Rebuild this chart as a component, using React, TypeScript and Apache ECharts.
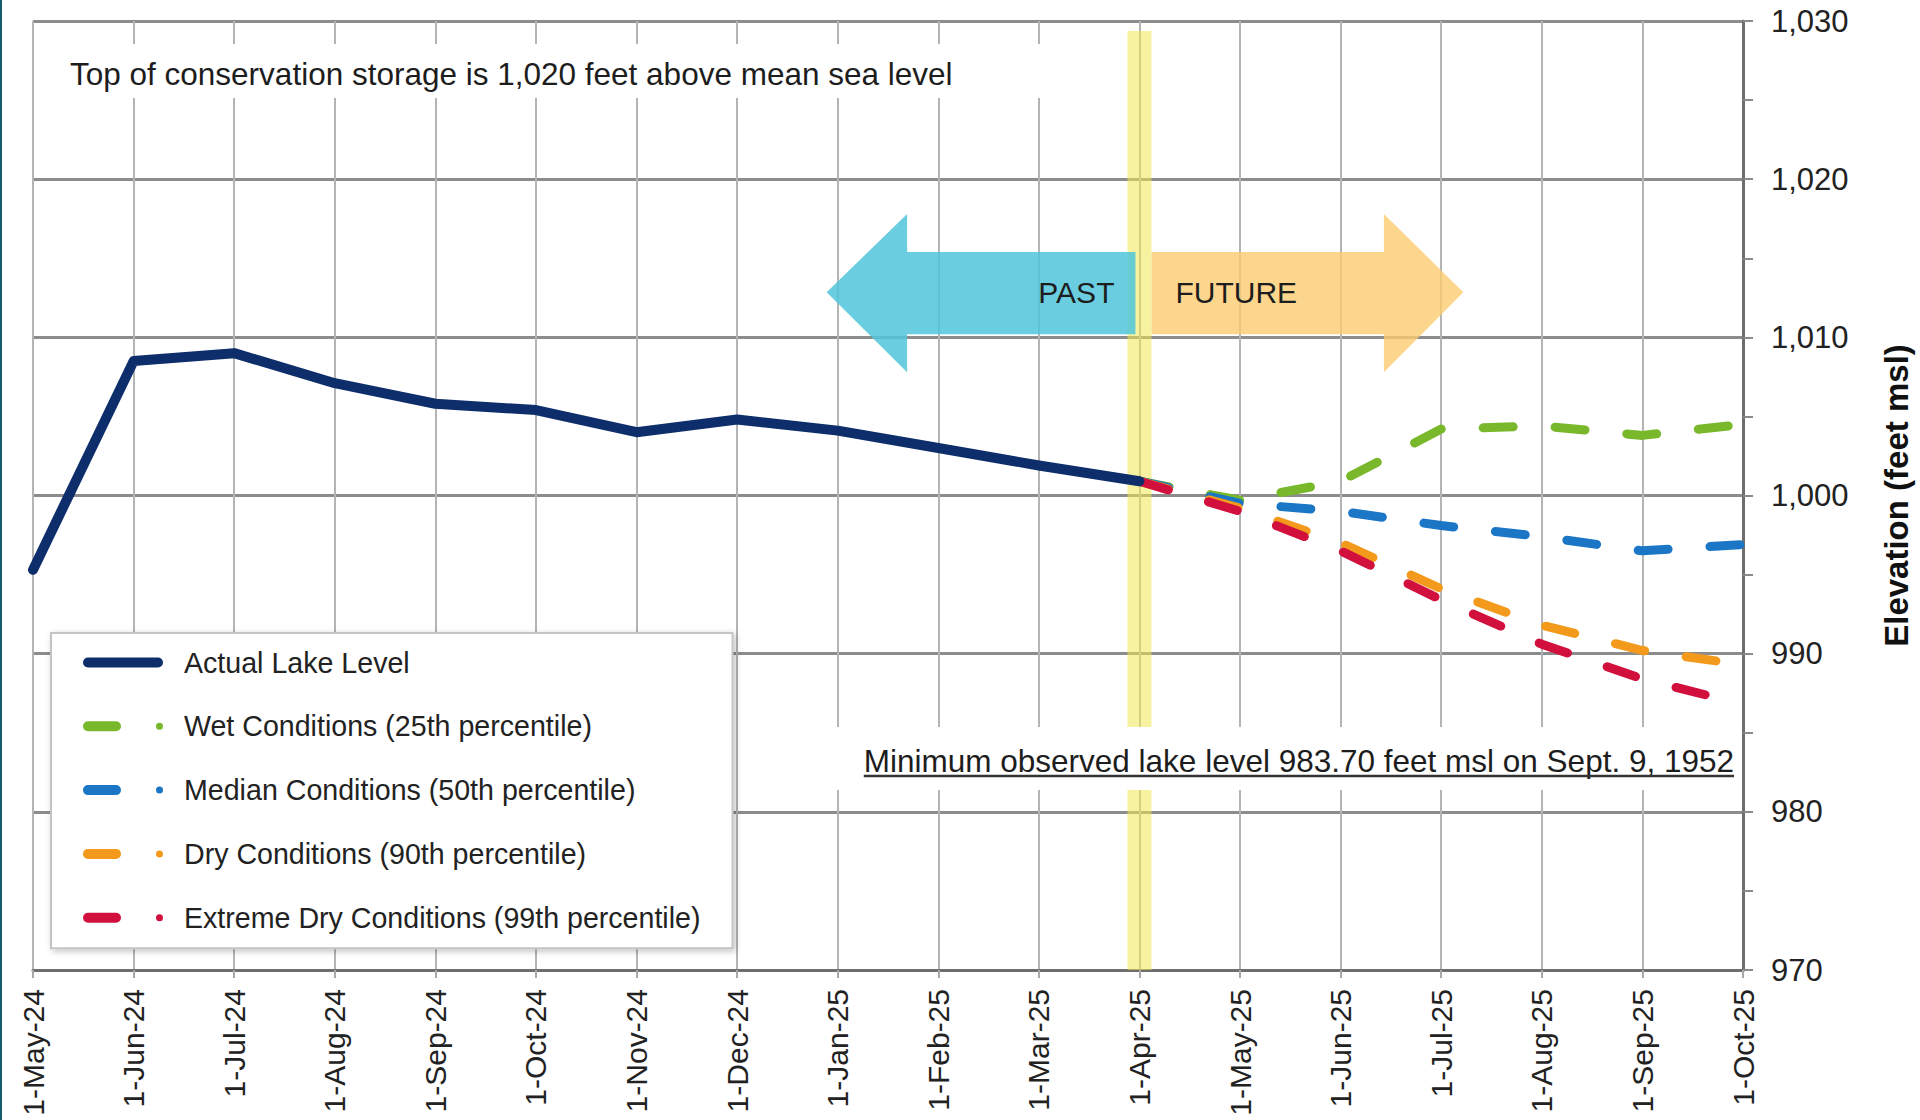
import React, { useEffect, useRef } from 'react';
import * as echarts from 'echarts';

const months = [
  '1-May-24', '1-Jun-24', '1-Jul-24', '1-Aug-24', '1-Sep-24', '1-Oct-24',
  '1-Nov-24', '1-Dec-24', '1-Jan-25', '1-Feb-25', '1-Mar-25', '1-Apr-25',
  '1-May-25', '1-Jun-25', '1-Jul-25', '1-Aug-25', '1-Sep-25', '1-Oct-25',
];

// Actual lake level, May-24 .. Apr-25
const actualLevel = [995.3, 1008.5, 1009.0, 1007.1, 1005.8, 1005.4, 1004.0, 1004.8, 1004.1, 1003.0, 1001.9, 1000.9];
// Forecasts, Apr-25 .. Oct-25
const forecastStart = 11;
const wetForecast = [1000.9, 999.7, 1000.9, 1004.2, 1004.4, 1003.8, 1004.5];
const medianForecast = [1000.9, 999.5, 999.0, 998.1, 997.4, 996.5, 996.9];
const dryForecast = [1000.9, 999.2, 997.0, 994.1, 991.8, 990.2, 989.3];
const extremeForecast = [1000.9, 999.0, 996.5, 993.4, 990.6, 988.4, 986.8];

const yMin = 970;
const yMax = 1030;
const yInterval = 10;

const seriesNames = [
  'Actual Lake Level',
  'Wet Conditions (25th percentile)',
  'Median Conditions (50th percentile)',
  'Dry Conditions (90th percentile)',
  'Extreme Dry Conditions (99th percentile)',
];
const seriesColors = ['#0d2d6b', '#79b82b', '#1b77c6', '#f39a1c', '#d2103d'];

const topNote = 'Top of conservation storage is 1,020 feet above mean sea level';
const minNote = 'Minimum observed lake level 983.70 feet msl on Sept. 9, 1952';
const yAxisTitle = 'Elevation (feet msl)';

const FONT = '"Liberation Sans", Arial, sans-serif';

const solidIcon = 'path://M5 0 H75 A5 5 0 0 1 75 10 H5 A5 5 0 0 1 5 0 Z';
const dashIcon =
  'path://M5 0 H33 A5 5 0 0 1 33 10 H5 A5 5 0 0 1 5 0 Z M76.5 1.5 A3.5 3.5 0 1 1 76.5 8.5 A3.5 3.5 0 1 1 76.5 1.5 Z';

export default function App() {
  const ref = useRef<HTMLDivElement>(null);

  useEffect(() => {
    const el = ref.current!;
    const chart = echarts.init(el, null, { renderer: 'svg' });

    const pad = (arr: number[], start: number) =>
      months.map((_, i) => (i < start || i - start >= arr.length ? null : arr[i - start]));

    const forecastSeries = [wetForecast, medianForecast, dryForecast, extremeForecast].map((arr, k) => ({
      name: seriesNames[k + 1],
      type: 'line',
      data: pad(arr, forecastStart),
      symbol: 'none',
      z: 3 + k,
      itemStyle: { color: seriesColors[k + 1] },
      lineStyle: { color: seriesColors[k + 1], width: 9, type: [30, 42], cap: 'round', join: 'round' },
    }));

    const option: any = {
      animation: false,
      backgroundColor: '#ffffff',
      grid: { left: 33, right: 177, top: 21, bottom: 150, containLabel: false, outerBoundsMode: 'none' },
      legend: {
        orient: 'vertical',
        left: 51,
        top: 633,
        data: seriesNames.map((n, i) => ({ name: n, icon: i === 0 ? solidIcon : dashIcon })),
        itemWidth: 80,
        itemHeight: 10,
        itemGap: 34.8,
        padding: [15, 32, 16, 32],
        backgroundColor: '#ffffff',
        borderColor: '#c4c4c4',
        borderWidth: 2,
        shadowColor: 'rgba(0,0,0,0.25)',
        shadowBlur: 6,
        shadowOffsetX: 2,
        shadowOffsetY: 2,
        itemStyle: { borderWidth: 0 },
        textStyle: { fontFamily: FONT, fontSize: 28.6, color: '#222', padding: [0, 0, 0, 16] },
        selectedMode: false,
        z: 20,
      },
      xAxis: {
        type: 'category',
        data: months,
        boundaryGap: false,
        axisLine: { show: true, lineStyle: { color: '#6e6e6e', width: 3 } },
        axisTick: { show: true, length: 8, lineStyle: { color: '#a8a8a8', width: 2 } },
        axisLabel: { rotate: 90, margin: 19, fontFamily: FONT, fontSize: 30, color: '#222', interval: 0 },
        splitLine: { show: true, lineStyle: { color: '#b4b4b4', width: 2 } },
      },
      yAxis: {
        type: 'value',
        position: 'right',
        min: yMin,
        max: yMax,
        interval: yInterval,
        name: yAxisTitle,
        nameLocation: 'middle',
        nameRotate: 90,
        nameGap: 137,
        nameTextStyle: { fontFamily: FONT, fontSize: 33, fontWeight: 'bold', color: '#111' },
        axisLine: { show: true, lineStyle: { color: '#6e6e6e', width: 3 } },
        axisTick: { show: true, length: 10, lineStyle: { color: '#8a8a8a', width: 2 } },
        minorTick: { show: true, splitNumber: 2, length: 10, lineStyle: { color: '#8a8a8a', width: 2 } },
        axisLabel: {
          margin: 28,
          fontFamily: FONT,
          fontSize: 31,
          color: '#222',
          formatter: (v: number) => v.toLocaleString('en-US'),
        },
        splitLine: { show: true, lineStyle: { color: '#8c8c8c', width: 3 } },
      },
      series: [
        {
          name: seriesNames[0],
          type: 'line',
          data: pad(actualLevel, 0),
          symbol: 'none',
          z: 7,
          itemStyle: { color: seriesColors[0] },
          lineStyle: { color: seriesColors[0], width: 10, cap: 'round', join: 'round' },
        },
        ...forecastSeries,
      ],
    };

    chart.setOption(option);

    const n = months.length - 1;
    const pt = (i: number, v: number) => {
      const a = chart.convertToPixel({ gridIndex: 0 }, [months[0], v]) as number[];
      const b = chart.convertToPixel({ gridIndex: 0 }, [months[n], v]) as number[];
      return [a[0] + ((b[0] - a[0]) * i) / n, a[1]];
    };

    const aprIdx = months.indexOf('1-Apr-25');
    const aprX = pt(aprIdx, yMin)[0];
    const bottomY = pt(0, yMin)[1];
    const topY = pt(0, yMax)[1];
    const rightX = pt(n, yMin)[0];
    const leftX = pt(0, yMin)[0];

    // Arrows (in data units)
    const arrowMid = 1012.85, shaftTop = 1015.4, shaftBot = 1010.2, headTop = 1017.8, headBot = 1007.8;
    const pastPts = [
      pt(7.89, arrowMid), pt(8.69, headTop), pt(8.69, shaftTop), pt(10.96, shaftTop),
      pt(10.96, shaftBot), pt(8.69, shaftBot), pt(8.69, headBot),
    ];
    const futurePts = [
      pt(11.12, shaftTop), pt(13.43, shaftTop), pt(13.43, headTop), pt(14.22, arrowMid),
      pt(13.43, headBot), pt(13.43, shaftBot), pt(11.12, shaftBot),
    ];
    const midY = pt(0, arrowMid)[1];

    const measure = (text: string, font: string) => {
      const c = document.createElement('canvas').getContext('2d')!;
      c.font = font;
      return c.measureText(text).width;
    };
    const minFont = `31.5px ${FONT}`;
    const minW = measure(minNote, minFont);
    const minRight = rightX - 9;
    const minY = 761;

    chart.setOption({
      graphic: [
        { type: 'rect', z: 100, shape: { x: 0, y: 0, width: 2, height: 1120 }, style: { fill: '#155d69' } },
        {
          type: 'rect', z: 1,
          shape: { x: aprX - 12, y: topY + 10, width: 24, height: bottomY - topY - 10 },
          style: { fill: 'rgba(240,232,80,0.55)' },
        },
        { type: 'polygon', z: 1, shape: { points: pastPts }, style: { fill: 'rgba(80,198,218,0.85)' } },
        { type: 'polygon', z: 1, shape: { points: futurePts }, style: { fill: 'rgba(252,204,112,0.8)' } },
        {
          type: 'text', z: 12, x: aprX - 25, y: midY,
          style: { text: 'PAST', font: `30px ${FONT}`, fill: '#1d1d1d', align: 'right', verticalAlign: 'middle' },
        },
        {
          type: 'text', z: 12, x: aprX + 36, y: midY,
          style: { text: 'FUTURE', font: `30px ${FONT}`, fill: '#1d1d1d', align: 'left', verticalAlign: 'middle' },
        },
        { type: 'rect', z: 10, shape: { x: leftX + 4, y: 44, width: 1075, height: 54 }, style: { fill: '#ffffff' } },
        {
          type: 'text', z: 12, x: 70, y: 74,
          style: { text: topNote, font: `31.5px ${FONT}`, fill: '#1d1d1d', align: 'left', verticalAlign: 'middle' },
        },
        {
          type: 'rect', z: 10,
          shape: { x: minRight - minW - 30, y: 727, width: minW + 33, height: 63 },
          style: { fill: '#ffffff' },
        },
        {
          type: 'text', z: 12, x: minRight, y: minY,
          style: { text: minNote, font: minFont, fill: '#1d1d1d', align: 'right', verticalAlign: 'middle' },
        },
        {
          type: 'line', z: 12,
          shape: { x1: minRight - minW, y1: minY + 15, x2: minRight, y2: minY + 15 },
          style: { stroke: '#333', lineWidth: 2.5 },
        },
      ],
    });

    return () => chart.dispose();
  }, []);

  return <div ref={ref} style={{ position: 'fixed', left: 0, top: 0, width: 1920, height: 1120 }} />;
}
